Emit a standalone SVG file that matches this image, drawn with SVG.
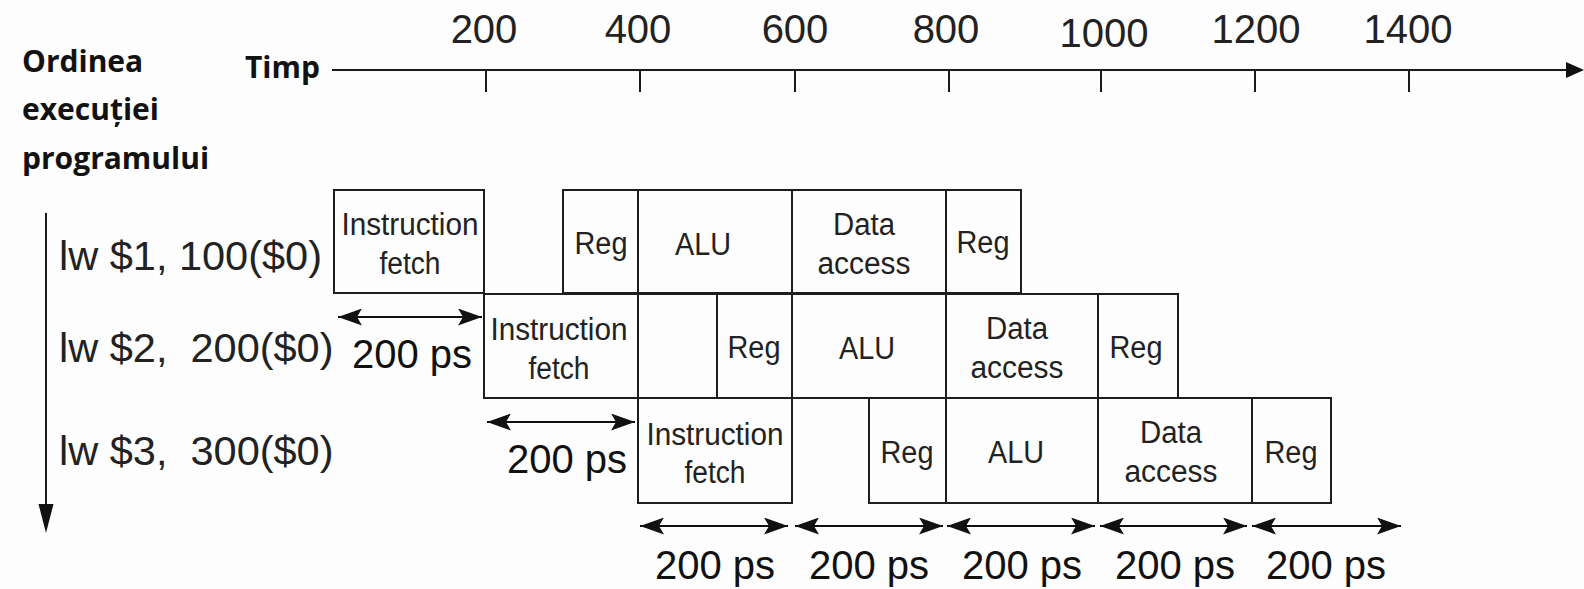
<svg xmlns="http://www.w3.org/2000/svg" width="1584" height="589" viewBox="0 0 1584 589">
<style>
.bg{fill:#fcfdfc}
.cell{fill:none;stroke:#1e1e1e;stroke-width:2}
.lbl{font-family:"Liberation Sans",Arial,sans-serif;font-size:31px;fill:#222;text-anchor:middle}
.ins{font-family:"Liberation Sans",Arial,sans-serif;font-size:41.5px;fill:#222}
.num{font-family:"Liberation Sans",Arial,sans-serif;font-size:40px;fill:#222;text-anchor:middle}
.ps{font-family:"Liberation Sans",Arial,sans-serif;font-size:40px;fill:#111;text-anchor:middle}
.ro{font-family:"Open Sans","Noto Sans",sans-serif;font-weight:bold;font-size:30px;fill:#121212}
.ln{stroke:#1a1a1a;stroke-width:2;fill:none}
.dbl{stroke:#111;stroke-width:2;fill:none;marker-start:url(#ah);marker-end:url(#ah)}
</style>
<defs>
<marker id="ah" viewBox="0 0 24 17" refX="24" refY="8.5" markerWidth="24" markerHeight="17" markerUnits="userSpaceOnUse" orient="auto-start-reverse">
<path d="M0,0 L24,8.5 L0,17 L5,8.5 Z" fill="#111"/>
</marker>
</defs>
<rect class="bg" x="0" y="0" width="1584" height="589"/>

<g id="title">
<text class="ro" x="22" y="72">Ordinea</text>
<text class="ro" x="22" y="120">execuției</text>
<text class="ro" x="22" y="169">programului</text>
<text class="ro" x="245" y="78">Timp</text>
</g>

<g id="axis-labels">
<text class="num" x="484" y="43">200</text>
<text class="num" x="638" y="43">400</text>
<text class="num" x="795" y="43">600</text>
<text class="num" x="946" y="43">800</text>
<text class="num" x="1104" y="46.5">1000</text>
<text class="num" x="1256" y="43">1200</text>
<text class="num" x="1408" y="43">1400</text>
</g>

<g id="instr-labels">
<text class="ins" x="59" y="270">lw $1, 100($0)</text>
<text class="ins" x="59" y="362" xml:space="preserve">lw $2,  200($0)</text>
<text class="ins" x="59" y="465" xml:space="preserve">lw $3,  300($0)</text>
</g>

<g id="connectors">
<line class="ln" x1="332" y1="70" x2="1568" y2="70"/>
<path d="M1566,62 L1584,70 L1566,78 Z" fill="#111"/>
<line class="ln" x1="486" y1="70" x2="486" y2="92"/>
<line class="ln" x1="640" y1="70" x2="640" y2="92"/>
<line class="ln" x1="795" y1="70" x2="795" y2="92"/>
<line class="ln" x1="949" y1="70" x2="949" y2="92"/>
<line class="ln" x1="1101" y1="70" x2="1101" y2="92"/>
<line class="ln" x1="1255" y1="70" x2="1255" y2="92"/>
<line class="ln" x1="1409" y1="70" x2="1409" y2="92"/>
<line class="ln" x1="46" y1="213" x2="46" y2="508"/>
<path d="M38.5,504 L53.5,504 L46,533 Z" fill="#111"/>
<line class="dbl" x1="338" y1="317" x2="482" y2="317"/>
<line class="dbl" x1="487" y1="422" x2="635" y2="422"/>
<line class="dbl" x1="640" y1="526" x2="788" y2="526"/>
<line class="dbl" x1="795" y1="526" x2="943" y2="526"/>
<line class="dbl" x1="947" y1="526" x2="1095" y2="526"/>
<line class="dbl" x1="1100" y1="526" x2="1247" y2="526"/>
<line class="dbl" x1="1252" y1="526" x2="1401" y2="526"/>
</g>

<g id="durations">
<text class="ps" x="412" y="368">200 ps</text>
<text class="ps" x="567" y="473">200 ps</text>
<text class="ps" x="715" y="579">200 ps</text>
<text class="ps" x="869" y="579">200 ps</text>
<text class="ps" x="1022" y="579">200 ps</text>
<text class="ps" x="1175" y="579">200 ps</text>
<text class="ps" x="1326" y="579">200 ps</text>
</g>

<g id="r1-if"><rect class="cell" x="334" y="190" width="150" height="103"/><text class="lbl" x="410" y="235" textLength="137" lengthAdjust="spacingAndGlyphs">Instruction</text><text class="lbl" x="410" y="274" textLength="61" lengthAdjust="spacingAndGlyphs">fetch</text></g>
<g id="r1-reg1"><rect class="cell" x="563" y="190" width="75" height="103"/><line x1="563" y1="294" x2="638" y2="294" stroke="#1e1e1e" stroke-width="2"/><text class="lbl" x="601" y="254" textLength="53" lengthAdjust="spacingAndGlyphs">Reg</text></g>
<g id="r1-alu"><rect class="cell" x="638" y="190" width="154" height="103"/><text class="lbl" x="703" y="255" textLength="56" lengthAdjust="spacingAndGlyphs">ALU</text></g>
<g id="r1-da"><rect class="cell" x="792" y="190" width="154" height="103"/><text class="lbl" x="864" y="235" textLength="62" lengthAdjust="spacingAndGlyphs">Data</text><text class="lbl" x="864" y="274" textLength="93" lengthAdjust="spacingAndGlyphs">access</text></g>
<g id="r1-reg2"><rect class="cell" x="946" y="190" width="75" height="103"/><text class="lbl" x="983" y="253" textLength="53" lengthAdjust="spacingAndGlyphs">Reg</text></g>

<g id="r2-if"><rect class="cell" x="484" y="294" width="154" height="104"/><text class="lbl" x="559" y="340" textLength="137" lengthAdjust="spacingAndGlyphs">Instruction</text><text class="lbl" x="559" y="379" textLength="61" lengthAdjust="spacingAndGlyphs">fetch</text></g>
<g id="r2-blank"><rect class="cell" x="638" y="294" width="79" height="104"/></g>
<g id="r2-reg1"><rect class="cell" x="717" y="294" width="75" height="104"/><text class="lbl" x="754" y="358" textLength="53" lengthAdjust="spacingAndGlyphs">Reg</text></g>
<g id="r2-alu"><rect class="cell" x="792" y="294" width="154" height="104"/><text class="lbl" x="867" y="359" textLength="56" lengthAdjust="spacingAndGlyphs">ALU</text></g>
<g id="r2-da"><rect class="cell" x="946" y="294" width="152" height="104"/><text class="lbl" x="1017" y="339" textLength="62" lengthAdjust="spacingAndGlyphs">Data</text><text class="lbl" x="1017" y="378" textLength="93" lengthAdjust="spacingAndGlyphs">access</text></g>
<g id="r2-reg2"><rect class="cell" x="1098" y="294" width="80" height="104"/><text class="lbl" x="1136" y="358" textLength="53" lengthAdjust="spacingAndGlyphs">Reg</text></g>

<g id="r3-if"><rect class="cell" x="638" y="398" width="154" height="105"/><text class="lbl" x="715" y="445" textLength="137" lengthAdjust="spacingAndGlyphs">Instruction</text><text class="lbl" x="715" y="483" textLength="61" lengthAdjust="spacingAndGlyphs">fetch</text></g>
<g id="r3-reg1"><rect class="cell" x="869" y="398" width="77" height="105"/><text class="lbl" x="907" y="463" textLength="53" lengthAdjust="spacingAndGlyphs">Reg</text></g>
<g id="r3-alu"><rect class="cell" x="946" y="398" width="152" height="105"/><text class="lbl" x="1016" y="463" textLength="56" lengthAdjust="spacingAndGlyphs">ALU</text></g>
<g id="r3-da"><rect class="cell" x="1098" y="398" width="154" height="105"/><text class="lbl" x="1171" y="443" textLength="62" lengthAdjust="spacingAndGlyphs">Data</text><text class="lbl" x="1171" y="482" textLength="93" lengthAdjust="spacingAndGlyphs">access</text></g>
<g id="r3-reg2"><rect class="cell" x="1252" y="398" width="79" height="105"/><text class="lbl" x="1291" y="463" textLength="53" lengthAdjust="spacingAndGlyphs">Reg</text></g>
</svg>
